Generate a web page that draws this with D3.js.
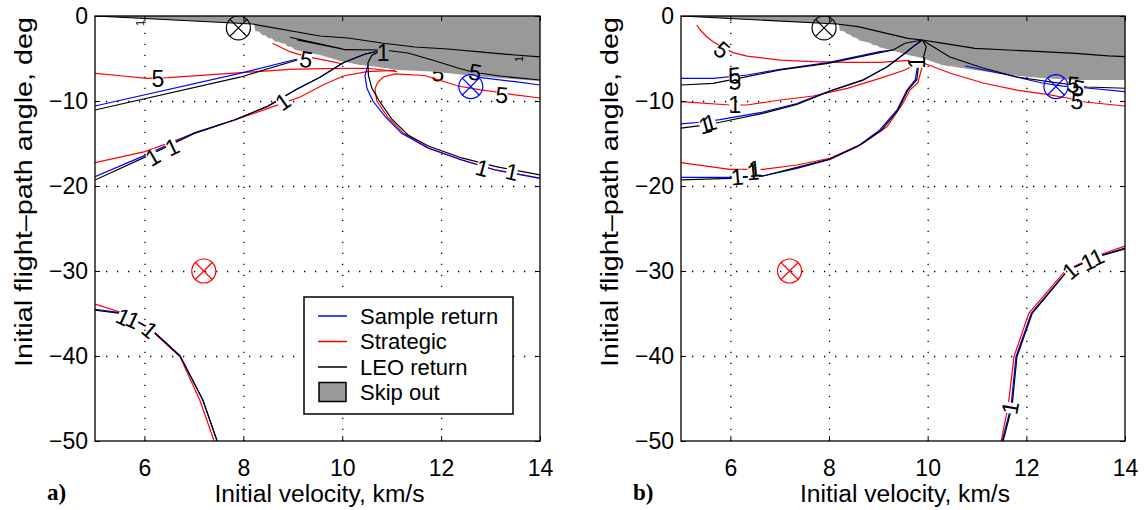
<!DOCTYPE html>
<html>
<head>
<meta charset="utf-8">
<script src="https://cdn.jsdelivr.net/npm/d3@7"></script>
<style>
  body { margin: 0; background: #fff; }
  svg { font-family: "Liberation Sans", Arial, Helvetica, sans-serif; }
  .tick text { font-size: 23px; fill: #000; }
  .tick line { stroke: #000; stroke-width: 1; }
  .domain { display: none; }
  .grid line { stroke: #000; stroke-width: 1.3; stroke-dasharray: 1.3 9.7; }
  .clabel { font-size: 23px; fill: #000; }
  .tiny { font-size: 11px; fill: #000; }
  .title { font-size: 23px; fill: #000; }
  .legtext { font-size: 22px; fill: #000; }
  .tag { font-family: "Liberation Serif", "Times New Roman", serif; font-weight: bold; font-size: 23px; }
</style>
</head>
<body>
<svg id="chart" width="1145" height="510"></svg>
<script>
// axis ticks
const xTicks = [6, 8, 10, 12, 14];
const yTicks = [0, -10, -20, -30, -40, -50];
const seriesNames = ['Sample return', 'Strategic', 'LEO return', 'Skip out'];

// target markers [velocity, angle, series]
const targets = [[7.9, -1.4, 'leo'], [12.6, -8.3, 'sample'], [7.2, -30, 'strategic']];

// ---------- panel a ----------
const skipEdgeA = [[5, 0], [8.18, -0.94], [8.22, -1.0], [8.24, -1.76], [8.32, -1.85], [8.38, -2.24], [8.45, -2.3],
  [8.5, -2.59], [8.58, -2.65], [8.64, -3.0], [8.72, -3.05], [8.78, -3.18], [8.84, -3.25], [8.9, -3.59],
  [8.98, -3.65], [9.05, -4.0], [9.12, -4.05], [9.19, -4.18], [9.55, -4.59], [9.96, -5.29], [10.36, -5.76],
  [10.66, -5.94], [11.13, -6.35], [11.82, -6.53], [12.48, -6.94], [13.15, -7.29], [14, -7.65]];
const skipLineA = [[5, 0], [8.18, -0.94], [9.55, -2.35], [10.12, -2.59], [10.8, -3.18], [11.47, -3.65],
  [12.14, -3.88], [12.83, -4.24], [13.5, -4.59], [14, -4.82]];

const sampleA = [
  [[5, -10.59], [7.93, -6.75], [9.09, -5.06]],
  [[5, -18.9], [6.01, -16.4], [7.02, -13.7], [7.83, -12.2], [8.5, -10.6], [9.05, -8.7], [9.55, -7.2],
    [10.02, -5.5], [10.45, -4.5], [10.83, -4.0]],
  [[10.52, -5.8], [10.46, -7.0], [10.5, -8.5], [10.62, -10.0], [10.87, -11.85], [11.2, -13.8], [11.74, -15.56],
    [12.42, -16.94], [13.09, -18.12], [14, -19.1]],
  [[12.6, -7.1], [13.5, -7.73], [14, -8.12]],
  [[5, -34.5], [5.51, -34.9], [6.11, -36.7], [6.72, -39.95], [7.18, -45.15], [7.47, -50]]
];
const strategicA = [
  [[5, -6.74], [5.57, -7.06], [6.05, -7.33], [6.48, -7.26], [7.59, -6.82], [8.94, -6.27], [9.61, -6.2],
    [10.5, -6.15], [10.97, -6.44], [11.11, -6.55]],
  [[5, -17.26], [6.01, -15.96], [7.02, -13.8], [7.83, -12.24], [8.5, -10.86], [9.15, -9.53], [9.61, -8.12],
    [10.02, -7.06], [10.5, -6.55], [11.07, -6.4]],
  [[14, -9.65], [13.5, -9.29], [13.13, -8.94], [12.83, -8.71], [12.34, -8.24], [12.02, -7.65], [11.67, -7.0],
    [11.07, -6.82], [10.83, -7.18], [10.72, -7.8], [10.66, -8.6], [10.7, -10.0], [10.92, -11.9], [11.24, -13.8],
    [11.74, -15.5], [12.4, -16.9], [13.07, -18.06], [14, -19.06]],
  [[8.59, -3.21], [8.94, -4.2], [9.28, -4.78], [9.79, -5.37], [10.02, -5.65]],
  [[5, -33.9], [5.57, -34.94], [6.11, -36.82], [6.72, -40.1], [7.12, -45.2], [7.41, -50]]
];
const leoA = [
  [[5, -11.06], [7.93, -7.2], [9.09, -5.18]],
  [[5, -19.3], [6.01, -16.6], [7.02, -13.8], [7.83, -12.2], [8.5, -10.6], [9.05, -8.7], [9.55, -7.2],
    [10.02, -5.5], [10.45, -4.5], [10.83, -4.0]],
  [[10.83, -4.0], [10.6, -4.6], [10.52, -5.5], [10.53, -7.0], [10.6, -8.5], [10.75, -10.0], [11.0, -12.1],
    [11.33, -14.0], [11.74, -15.3], [12.42, -16.7], [13.09, -17.7], [14, -18.7]],
  [[10.83, -4.0], [11.33, -4.35], [11.82, -5.18], [12.34, -6.12], [12.63, -6.59], [13.19, -7.06], [14, -7.53]],
  [[8.94, -2.5], [10.02, -3.9], [9.09, -2.8]],
  [[10.02, -3.95], [10.83, -4.0]],
  [[5, -34.6], [5.51, -34.98], [6.11, -36.74], [6.72, -40.0], [7.18, -45.18], [7.47, -50]]
];
// contour labels [text, velocity, angle, rotation]
const labelsA = [
  ['5', 6.27, -7.4, 0], ['5', 9.27, -5.1, 10], ['5', 12.69, -6.6, 10], ['5', 13.23, -9.29, 5],
  ['1', 10.83, -4.4, 0], ['1', 6.17, -16.6, -30], ['1', 6.56, -15.4, -25], ['1', 8.8, -10.1, -35],
  ['1', 12.83, -17.9, 15], ['1', 13.43, -18.35, 12],
  ['1', 5.57, -35.4, 25], ['1', 5.77, -35.76, 25], ['1', 6.11, -36.94, 40]
];
const hiddenLabelsA = [['5', 11.94, -6.75, 5]];
const tinyLabelsA = [['1', 5.91, -0.82, -90], ['1', 13.58, -5.06, -90]];

// ---------- panel b ----------
const skipEdgeB = [[5, 0], [8.16, -0.94], [8.2, -1.0], [8.22, -1.73], [8.3, -1.8], [8.37, -2.12], [8.43, -2.2],
  [8.49, -2.51], [8.56, -2.58], [8.63, -2.91], [8.7, -2.98], [8.77, -3.09], [8.83, -3.15], [8.89, -3.41],
  [8.96, -3.45], [9.03, -3.68], [9.3, -4.08], [9.6, -4.59], [9.89, -4.94], [10.29, -5.76], [10.96, -6.35],
  [11.63, -6.94], [12.32, -7.29], [12.99, -7.53], [14, -7.53]];
const skipLineB = [[5, 0], [8.16, -0.94], [8.59, -1.26], [9.6, -2.63], [9.89, -2.82], [10.29, -3.2],
  [10.96, -3.8], [11.63, -4.0], [12.32, -4.2], [12.99, -4.4], [13.66, -4.7], [14, -4.78]];

const sampleB = [
  [[5, -7.33], [5.65, -7.33], [6.34, -6.94], [7.01, -6.27], [7.98, -5.49], [9.03, -4.2], [9.3, -4.0]],
  [[5, -12.7], [5.39, -12.5], [5.79, -12.2], [6.66, -11.3], [7.35, -10.3], [8.02, -8.8], [8.69, -7.5],
    [9.18, -5.96], [9.54, -4.39], [9.75, -3.4], [9.89, -2.82]],
  [[9.8, -5.6], [9.75, -7.5], [9.58, -8.71], [9.38, -11.06], [9.03, -13.41], [8.57, -15.38], [8.02, -16.86],
    [7.35, -17.92], [6.66, -18.82], [5.99, -18.98], [5, -18.98]],
  [[10.76, -5.88], [11.63, -6.94], [12.32, -7.88], [12.74, -8.24], [13.23, -8.47], [14, -8.9]],
  [[11.51, -50], [11.69, -45.96], [11.79, -40.08], [12.1, -34.98], [12.84, -29.9], [13.44, -28.3], [14, -27.3]]
];
const strategicB = [
  [[5.32, -1.06], [5.39, -1.65], [5.52, -2.44], [5.65, -3.02], [6.05, -4.31], [6.34, -4.71], [7.01, -5.18],
    [7.68, -5.37], [8.37, -5.45], [9.03, -5.45], [9.54, -5.26], [9.75, -5.2]],
  [[5, -10.08], [5.99, -10.47], [6.34, -10.47], [7.01, -9.88], [7.68, -9.41], [8.37, -8.51], [9.03, -7.33],
    [9.54, -6.35], [9.85, -5.41]],
  [[9.91, -5.53], [9.8, -7.88], [9.64, -8.71], [9.5, -10.27], [9.18, -13.02], [8.69, -14.98], [8.02, -16.74],
    [7.35, -17.53], [6.66, -18.04], [5.99, -18.04], [5, -17.26]],
  [[9.91, -5.53], [10.45, -6.71], [11.12, -7.88], [11.81, -8.71], [12.48, -9.29], [12.82, -9.65],
    [13.19, -10.12], [14, -10.59]],
  [[11.49, -50], [11.63, -45.96], [11.75, -40.08], [12.05, -34.98], [12.8, -29.9], [13.43, -28.2], [14, -27.06]]
];
const leoB = [
  [[5, -8.12], [5.65, -7.92], [6.34, -7.14], [7.01, -6.35], [7.98, -5.57], [9.03, -4.31], [9.3, -4.0],
    [9.54, -3.21], [9.89, -2.82]],
  [[5, -13.2], [5.39, -12.9], [5.79, -12.5], [6.66, -11.45], [7.35, -10.4], [8.02, -8.85], [8.69, -7.55],
    [9.18, -5.96], [9.54, -4.39], [9.75, -3.4], [9.89, -2.82]],
  [[9.89, -2.82], [9.97, -3.6], [9.93, -4.6], [9.82, -5.6], [9.78, -7.5], [9.6, -8.71], [9.4, -11.06],
    [9.07, -13.41], [8.63, -15.18], [8.02, -16.82], [7.35, -17.8], [6.66, -18.82], [5.99, -19.1], [5, -19.29]],
  [[9.89, -2.82], [10.45, -4.82], [11.12, -6.12], [11.81, -7.18], [12.48, -7.76], [12.95, -8.12],
    [13.23, -8.35], [14, -8.5]],
  [[11.53, -50], [11.71, -45.96], [11.81, -40.08], [12.12, -34.98], [12.85, -29.88], [13.45, -28.32], [14, -27.4]]
];
const labelsB = [
  ['5', 5.83, -4.0, 40], ['5', 6.09, -7.0, -5], ['5', 6.09, -7.7, -5], ['1', 6.09, -10.47, 0],
  ['1', 5.49, -12.85, -15], ['1', 5.59, -12.55, -15],
  ['1', 6.14, -18.94, -5], ['1', 6.46, -18.35, -5], ['1', 6.5, -17.95, -5],
  ['1', 9.78, -5.45, -90],
  ['5', 12.95, -8.05, 5], ['5', 13.05, -8.5, 10], ['5', 13.03, -10.0, 5],
  ['1', 11.67, -46.1, -80], ['1', 12.89, -30.0, -40], ['1', 13.25, -28.94, -25], ['1', 13.43, -28.35, -25]
];

const colors = { sample: '#0000ff', strategic: '#ff0000', leo: '#000000' };
const skipFill = '#999999';

const plotTop = 16, plotBottom = 441;
const svg = d3.select('#chart');

const panels = [
  { left: 95, right: 540, tag: 'a)', edge: skipEdgeA, line: skipLineA, sample: sampleA, strategic: strategicA,
    leo: leoA, labels: labelsA, hidden: hiddenLabelsA, tiny: tinyLabelsA, legend: true },
  { left: 681, right: 1125, tag: 'b)', edge: skipEdgeB, line: skipLineB, sample: sampleB, strategic: strategicB,
    leo: leoB, labels: labelsB, hidden: [], tiny: [], legend: false }
];

panels.forEach((p, i) => {
  const x = d3.scaleLinear().domain([5, 14]).range([p.left, p.right]);
  const y = d3.scaleLinear().domain([-50, 0]).range([plotBottom, plotTop]);
  const g = svg.append('g');
  const clipId = `clip${i}`;
  g.append('clipPath').attr('id', clipId).append('rect')
    .attr('x', p.left).attr('y', plotTop).attr('width', p.right - p.left).attr('height', plotBottom - plotTop);

  const place = (d) => `translate(${x(d[1])},${y(d[2])}) rotate(${d[3]})`;

  // inline label gaps, as clabel leaves them in the contour lines
  const gapId = `gap${i}`;
  const mask = g.append('mask').attr('id', gapId)
    .attr('maskUnits', 'userSpaceOnUse')
    .attr('x', 0).attr('y', 0).attr('width', 1145).attr('height', 510);
  mask.append('rect').attr('x', 0).attr('y', 0).attr('width', 1145).attr('height', 510).attr('fill', '#fff');
  mask.selectAll(null).data(p.labels).enter().append('rect')
    .attr('x', -5.5).attr('y', -7).attr('width', 11).attr('height', 14)
    .attr('transform', place)
    .attr('fill', '#000');

  // grid
  g.append('g').attr('class', 'grid')
    .attr('transform', `translate(0,${plotBottom})`)
    .call(d3.axisBottom(x).tickValues(xTicks.filter((v) => v < 14)).tickSize(-(plotBottom - plotTop)).tickFormat(''));
  g.append('g').attr('class', 'grid')
    .attr('transform', `translate(${p.left},0)`)
    .call(d3.axisLeft(y).tickValues(yTicks.filter((v) => v > -50 && v < 0)).tickSize(-(p.right - p.left)).tickFormat(''));

  const plot = g.append('g').attr('clip-path', `url(#${clipId})`);
  const line = d3.line().x((d) => x(d[0])).y((d) => y(d[1]));

  const addLabels = (arr, cls) => {
    plot.selectAll(null).data(arr).enter().append('text')
      .attr('class', cls)
      .attr('text-anchor', 'middle')
      .attr('dy', '0.35em')
      .attr('transform', place)
      .text((d) => d[0]);
  };

  addLabels(p.hidden, 'clabel');

  // skip-out region
  plot.append('path')
    .datum(p.edge.concat([[14, 0], [5, 0]]))
    .attr('d', line)
    .attr('fill', skipFill);
  plot.append('path').datum(p.line).attr('d', line)
    .attr('fill', 'none').attr('stroke', '#000').attr('stroke-width', 1.2);

  const contours = plot.append('g').attr('mask', `url(#${gapId})`);
  ['strategic', 'sample', 'leo'].forEach((s) => {
    contours.selectAll(null).data(p[s]).enter().append('path')
      .attr('d', line)
      .attr('fill', 'none')
      .attr('stroke', colors[s])
      .attr('stroke-width', 1.2);
  });

  addLabels(p.labels, 'clabel');
  addLabels(p.tiny, 'tiny');

  // target markers
  const r = 12;
  const mk = plot.selectAll(null).data(targets).enter().append('g')
    .attr('transform', (d) => `translate(${x(d[0])},${y(d[1])})`)
    .attr('stroke', (d) => colors[d[2]])
    .attr('stroke-width', 1.2)
    .attr('fill', 'none');
  mk.append('circle').attr('r', r);
  const k = r * Math.SQRT1_2;
  mk.append('line').attr('x1', -k).attr('y1', -k).attr('x2', k).attr('y2', k);
  mk.append('line').attr('x1', -k).attr('y1', k).attr('x2', k).attr('y2', -k);

  // axes with inward ticks
  g.append('g').attr('transform', `translate(0,${plotBottom})`)
    .call(d3.axisBottom(x).tickValues(xTicks).tickSizeInner(-5).tickSizeOuter(0).tickPadding(19));
  g.append('g').attr('transform', `translate(0,${plotTop})`)
    .call(d3.axisTop(x).tickValues(xTicks).tickSizeInner(-5).tickSizeOuter(0).tickFormat(''));
  g.append('g').attr('transform', `translate(${p.left},0)`)
    .call(d3.axisLeft(y).tickValues(yTicks).tickSizeInner(-5).tickSizeOuter(0).tickPadding(7));
  g.append('g').attr('transform', `translate(${p.right},0)`)
    .call(d3.axisRight(y).tickValues(yTicks).tickSizeInner(-5).tickSizeOuter(0).tickFormat(''));
  g.selectAll('.tick text').attr('font-family', null).attr('font-size', null);

  g.append('rect')
    .attr('x', p.left).attr('y', plotTop)
    .attr('width', p.right - p.left).attr('height', plotBottom - plotTop)
    .attr('fill', 'none').attr('stroke', '#000').attr('stroke-width', 1.3);

  // titles
  g.append('text').attr('class', 'title')
    .attr('x', (p.left + p.right) / 2 + 2).attr('y', 502)
    .attr('text-anchor', 'middle')
    .attr('textLength', 210).attr('lengthAdjust', 'spacingAndGlyphs')
    .text('Initial velocity, km/s');
  g.append('text').attr('class', 'title')
    .attr('transform', `translate(${p.left - 63},192) rotate(-90)`)
    .attr('text-anchor', 'middle')
    .attr('textLength', 350).attr('lengthAdjust', 'spacingAndGlyphs')
    .text('Initial flight\u2013path angle, deg');
  g.append('text').attr('class', 'tag')
    .attr('x', p.left - 48).attr('y', 500)
    .text(p.tag);

  if (p.legend) {
    const lx = 304, ly = 297, lw = 209, lh = 117;
    const lg = g.append('g');
    lg.append('rect').attr('x', lx).attr('y', ly).attr('width', lw).attr('height', lh)
      .attr('fill', '#fff').attr('stroke', '#000').attr('stroke-width', 1.5);
    const keys = ['sample', 'strategic', 'leo'];
    seriesNames.forEach((name, j) => {
      const cy = ly + 19 + j * 25.5;
      if (j < 3) {
        lg.append('line').attr('x1', lx + 14).attr('x2', lx + 43).attr('y1', cy).attr('y2', cy)
          .attr('stroke', colors[keys[j]]).attr('stroke-width', 1.5);
      } else {
        lg.append('rect').attr('x', lx + 15).attr('y', cy - 10).attr('width', 27).attr('height', 19)
          .attr('fill', skipFill).attr('stroke', '#000').attr('stroke-width', 1.5);
      }
      lg.append('text').attr('class', 'legtext')
        .attr('x', lx + 56).attr('y', cy).attr('dy', '0.35em')
        .text(name);
    });
  }
});
</script>
</body>
</html>
